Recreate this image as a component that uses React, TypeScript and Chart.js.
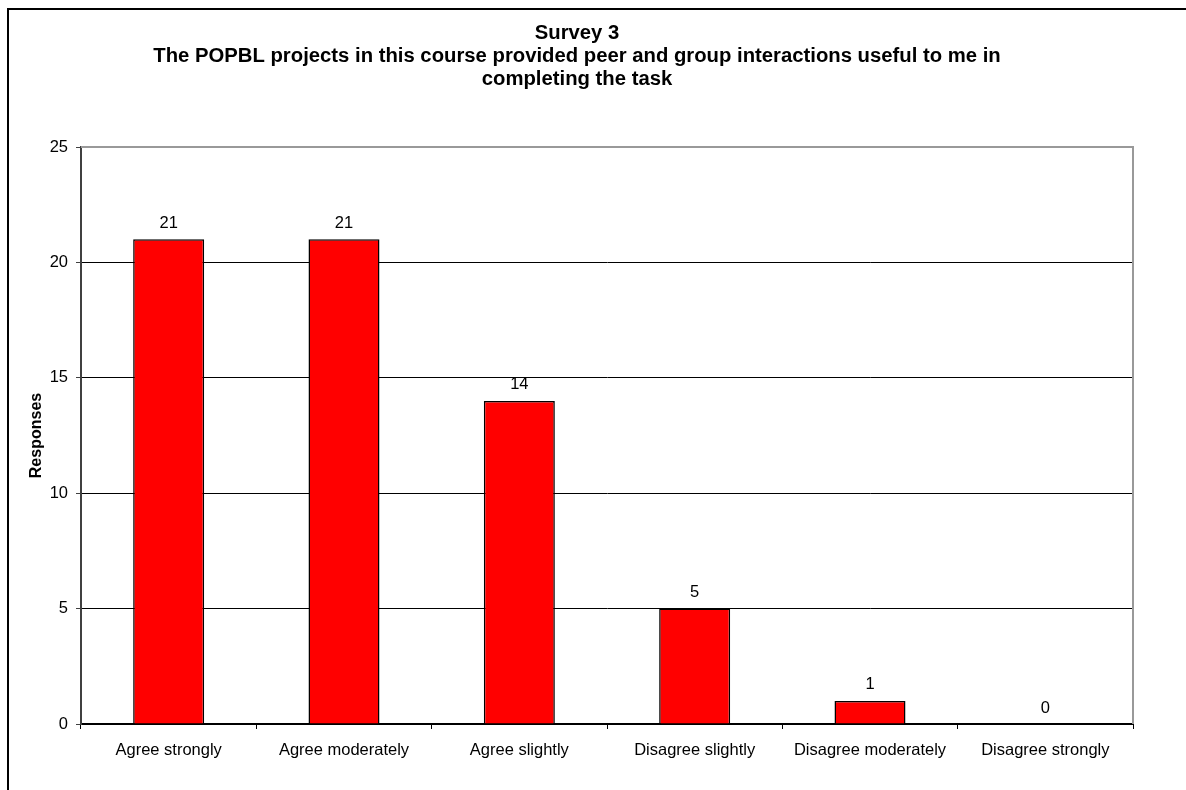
import React, { useEffect, useRef } from "react";
import { Chart, registerables } from "chart.js";

Chart.register(...registerables);

const categories = [
  "Agree strongly",
  "Agree moderately",
  "Agree slightly",
  "Disagree slightly",
  "Disagree moderately",
  "Disagree strongly",
];
const responses = [21, 21, 14, 5, 1, 0];
const titleLines = [
  "Survey 3",
  "The POPBL projects in this course provided peer and group interactions useful to me in",
  "completing the task",
];
const yAxisTitle = "Responses";
const yTicks = [0, 5, 10, 15, 20, 25];

const FONT = "'Liberation Sans', Arial, Helvetica, sans-serif";
const W = 1186;
const H = 790;

// Frame, title, axis title and value labels drawn straight onto the canvas.
const decorations = {
  id: "decorations",
  beforeDraw(chart: any) {
    const ctx = chart.ctx;
    ctx.save();
    ctx.fillStyle = "#ffffff";
    ctx.fillRect(0, 0, chart.width, chart.height);
    ctx.strokeStyle = "#000000";
    ctx.lineWidth = 2;
    ctx.strokeRect(8, 9, 2000, 2000);
    ctx.restore();
  },
  afterDatasetsDraw(chart: any) {
    const ctx = chart.ctx;
    const area = chart.chartArea;
    ctx.save();
    // plot area border on the top and right
    ctx.strokeStyle = "#999999";
    ctx.lineWidth = 2;
    ctx.beginPath();
    ctx.moveTo(area.left, area.top);
    ctx.lineTo(area.right, area.top);
    ctx.lineTo(area.right, area.bottom);
    ctx.stroke();

    // value labels above bars
    ctx.fillStyle = "#000000";
    ctx.font = `16.5px ${FONT}`;
    ctx.textAlign = "center";
    ctx.textBaseline = "middle";
    const meta = chart.getDatasetMeta(0);
    meta.data.forEach((bar: any, i: number) => {
      ctx.fillText(String(responses[i]), bar.x, bar.y - 16);
    });

    // chart title
    ctx.font = `bold 20.3px ${FONT}`;
    ctx.textBaseline = "alphabetic";
    const baselines = [39, 62, 85];
    titleLines.forEach((line, i) => {
      ctx.fillText(line, 577, baselines[i]);
    });

    // y axis title
    ctx.font = `bold 16px ${FONT}`;
    ctx.translate(37, (area.top + area.bottom) / 2);
    ctx.rotate(-Math.PI / 2);
    ctx.textBaseline = "middle";
    ctx.fillText(yAxisTitle, 0, 0);
    ctx.restore();
  },
};

export default function App() {
  const canvasRef = useRef<HTMLCanvasElement | null>(null);

  useEffect(() => {
    const canvas = canvasRef.current;
    if (!canvas) return;
    const chart = new Chart(canvas, {
      type: "bar",
      data: {
        labels: categories,
        datasets: [
          {
            data: responses,
            backgroundColor: "#ff0000",
            borderColor: "#000000",
            borderWidth: 1.5,
            borderSkipped: "bottom",
            barPercentage: 0.405,
            categoryPercentage: 1,
          },
        ],
      },
      options: {
        responsive: false,
        animation: false,
        devicePixelRatio: 1,
        layout: { padding: { top: 147, right: 53, left: 0, bottom: 0 } },
        plugins: {
          legend: { display: false },
          title: { display: false },
          tooltip: { enabled: false },
        },
        scales: {
          x: {
            afterFit(scale: any) {
              scale.height = H - 724;
            },
            grid: {
              offset: true,
              drawOnChartArea: false,
              tickLength: 5,
              tickColor: "#000000",
              tickWidth: 1,
            },
            border: { color: "#000000", width: 2 },
            ticks: {
              color: "#000000",
              font: { family: FONT, size: 16.5 },
              padding: 12,
              maxRotation: 0,
              autoSkip: false,
            },
          },
          y: {
            min: 0,
            max: 25,
            afterFit(scale: any) {
              scale.width = 81;
            },
            afterBuildTicks(scale: any) {
              scale.ticks = yTicks.map((v) => ({ value: v }));
            },
            grid: {
              color: (c: any) =>
                c.tick && c.tick.value === 0
                  ? "rgba(0,0,0,0)"
                  : c.tick && c.tick.value === 25
                  ? "#999999"
                  : "#000000",
              lineWidth: 1,
              tickLength: 5,
              tickColor: "#404040",
            },
            border: { color: "#404040", width: 2 },
            ticks: {
              color: "#000000",
              font: { family: FONT, size: 16.5 },
              padding: 8,
            },
          },
        },
      },
      plugins: [decorations],
    });
    return () => chart.destroy();
  }, []);

  return (
    <div style={{ position: "absolute", left: 0, top: 0, width: W, height: H }}>
      <canvas ref={canvasRef} width={W} height={H} style={{ display: "block", width: W, height: H }} />
    </div>
  );
}
